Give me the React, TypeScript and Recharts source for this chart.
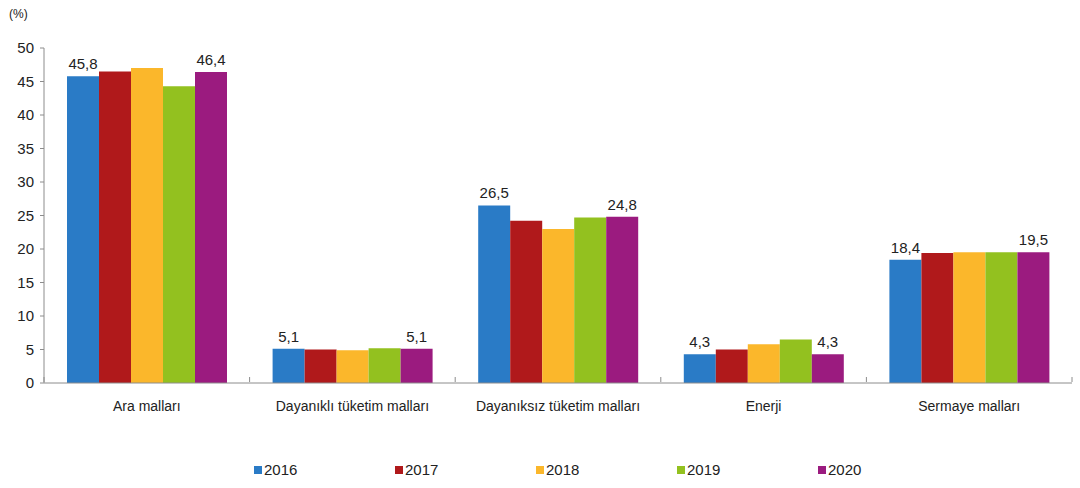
import React from "react";
import { BarChart, Bar, XAxis, YAxis, LabelList } from "recharts";

const categories = [
  "Ara malları",
  "Dayanıklı tüketim malları",
  "Dayanıksız tüketim malları",
  "Enerji",
  "Sermaye malları",
];

const years = ["2016", "2017", "2018", "2019", "2020"];

const v2016 = [45.8, 5.1, 26.5, 4.3, 18.4];
const v2017 = [46.5, 5.0, 24.2, 5.0, 19.4];
const v2018 = [47.0, 4.9, 23.0, 5.8, 19.5];
const v2019 = [44.3, 5.2, 24.7, 6.5, 19.5];
const v2020 = [46.4, 5.1, 24.8, 4.3, 19.5];

const yTicks = [0, 5, 10, 15, 20, 25, 30, 35, 40, 45, 50];
const sepTicks = [0, 1, 2, 3, 4, 5];

const COLORS = ["#2a7bc6", "#b0191b", "#fbb72b", "#93c11f", "#9b1b7f"];

const series = [v2016, v2017, v2018, v2019, v2020];

const data = categories.map((name, i) => {
  const row: Record<string, string | number> = { name, pos: i + 0.5 };
  years.forEach((y, k) => {
    row[y] = series[k][i];
  });
  return row;
});

const fmt = (v: any) => String(v).replace(".", ",");

const FONT = "'Liberation Sans', Arial, sans-serif";

// short tick marks between the categories, drawn on the number axis
const SepTick = (props: any) => (
  <line x1={props.x} x2={props.x} y1={props.y - 6} y2={props.y - 1} stroke="#8c8c8c" />
);

const LegendRow = () => (
  <div
    style={{
      position: "absolute",
      top: 461,
      left: 0,
      width: 1080,
      fontFamily: FONT,
      fontSize: 15,
      color: "#222",
    }}
  >
    {years.map((y, k) => (
      <div
        key={y}
        style={{
          position: "absolute",
          left: 254 + k * 141,
          display: "flex",
          alignItems: "center",
        }}
      >
        <span
          style={{
            display: "inline-block",
            width: 8,
            height: 8,
            background: COLORS[k],
            marginRight: 2,
          }}
        />
        {y}
      </div>
    ))}
  </div>
);

const App: React.FC = () => (
  <div style={{ position: "absolute", left: 0, top: 0, width: 1080, height: 488, background: "#fff" }}>
    <div style={{ position: "absolute", left: 9, top: 7, fontFamily: FONT, fontSize: 12, color: "#222" }}>
      (%)
    </div>
    <BarChart
      width={1080}
      height={488}
      data={data}
      margin={{ top: 48, right: 8, left: 0, bottom: 69 }}
      barCategoryGap={23}
      barGap={0}
    >
      <XAxis
        xAxisId="a"
        type="number"
        dataKey="pos"
        domain={[0, 5]}
        ticks={sepTicks}
        tick={<SepTick />}
        tickLine={false}
        tickSize={0}
        tickMargin={0}
        axisLine={{ stroke: "#8c8c8c" }}
        height={6}
      />
      <XAxis
        dataKey="name"
        xAxisId="b"
        tickLine={false}
        axisLine={false}
        tick={{ fill: "#222", fontSize: 14, fontFamily: FONT }}
        tickMargin={6}
        interval={0}
        height={30}
      />
      <YAxis
        width={44}
        domain={[0, 50]}
        ticks={yTicks}
        interval={0}
        tickSize={4}
        tickLine={{ stroke: "#8c8c8c" }}
        axisLine={{ stroke: "#8c8c8c" }}
        tick={{ fill: "#222", fontSize: 15, fontFamily: FONT }}
        tickMargin={6}
      />
      {years.map((y, k) => (
        <Bar key={y} dataKey={y} xAxisId="b" fill={COLORS[k]} isAnimationActive={false}>
          {(k === 0 || k === years.length - 1) && (
            <LabelList
              dataKey={y}
              position="top"
              offset={7}
              formatter={fmt}
              style={{ fill: "#222", fontSize: 15, fontFamily: FONT }}
            />
          )}
        </Bar>
      ))}
    </BarChart>
    <LegendRow />
  </div>
);

export default App;
